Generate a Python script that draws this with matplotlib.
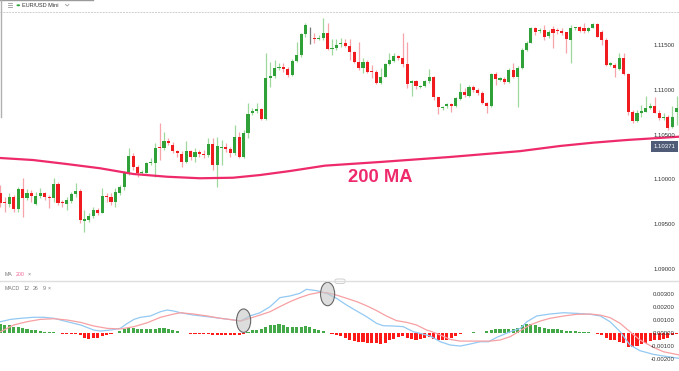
import matplotlib
matplotlib.use("Agg")
import matplotlib.pyplot as plt
from matplotlib.patches import Ellipse, FancyBboxPatch, Circle
from matplotlib.lines import Line2D
import numpy as np

# ---------------- data ----------------
opens = [
1.09852, 1.09751, 1.09729, 1.09807, 1.09673, 1.09897, 1.09796, 1.09852, 1.09729, 1.09818,
1.09855, 1.09811, 1.09793, 1.09953, 1.09755, 1.09729, 1.09766, 1.09841, 1.09878, 1.09542,
1.09550, 1.09598, 1.09662, 1.09632, 1.09822, 1.09804, 1.09748, 1.09855, 1.09916, 1.10073,
1.10270, 1.10139, 1.10079, 1.10079, 1.10184, 1.10184, 1.10363, 1.10359, 1.10437, 1.10393,
1.10326, 1.10288, 1.10196, 1.10322, 1.10258, 1.10314, 1.10292, 1.10277, 1.10397, 1.10165,
1.10352, 1.10370, 1.10344, 1.10296, 1.10475, 1.10251, 1.10527, 1.10744, 1.10773, 1.10788,
1.10676, 1.11135, 1.11161, 1.11247, 1.11265, 1.11239, 1.11172, 1.11332, 1.11396, 1.11627,
1.11595, 1.11583, 1.11571, 1.11583, 1.11638, 1.11466, 1.11470, 1.11515, 1.11530, 1.11496,
1.11433, 1.11321, 1.11247, 1.11321, 1.11220, 1.11209, 1.11079, 1.11153, 1.11295, 1.11332,
1.11385, 1.11359, 1.11295, 1.11083, 1.11101, 1.11041, 1.11053, 1.11105, 1.11153, 1.10923,
1.10807, 1.10829, 1.10848, 1.10825, 1.10907, 1.10982, 1.10937, 1.11041, 1.11004, 1.10974,
1.10855, 1.10825, 1.11180, 1.11116, 1.11127, 1.11090, 1.11228, 1.11146, 1.11247, 1.11452,
1.11534, 1.11694, 1.11661, 1.11675, 1.11608, 1.11687, 1.11675, 1.11668, 1.11650, 1.11564,
1.11694, 1.11705, 1.11698, 1.11668, 1.11701, 1.11739, 1.11650, 1.11564, 1.11284, 1.11284,
1.11239, 1.11359, 1.11183, 1.10758, 1.10661, 1.10751, 1.10762, 1.10800, 1.10825, 1.10751,
1.10688, 1.10706, 1.10594, 1.10762]

highs = [
1.09941, 1.09807, 1.09852, 1.09830, 1.09919, 1.10020, 1.09897, 1.09886, 1.09863, 1.09905,
1.09863, 1.09830, 1.10017, 1.09979, 1.09774, 1.09811, 1.09867, 1.09967, 1.09893, 1.09662,
1.09625, 1.09699, 1.09681, 1.09905, 1.09849, 1.09855, 1.09905, 1.09941, 1.10102, 1.10352,
1.10296, 1.10165, 1.10109, 1.10202, 1.10240, 1.10408, 1.10632, 1.10538, 1.10464, 1.10426,
1.10333, 1.10326, 1.10437, 1.10333, 1.10352, 1.10333, 1.10333, 1.10464, 1.10464, 1.10482,
1.10445, 1.10408, 1.10370, 1.10613, 1.10538, 1.10557, 1.10862, 1.10800, 1.10855, 1.10800,
1.11415, 1.11321, 1.11340, 1.11303, 1.11310, 1.11265, 1.11348, 1.11545, 1.11638, 1.11757,
1.11712, 1.11638, 1.11620, 1.11806, 1.11750, 1.11571, 1.11571, 1.11583, 1.11571, 1.11571,
1.11444, 1.11545, 1.11359, 1.11340, 1.11284, 1.11228, 1.11247, 1.11310, 1.11422, 1.11422,
1.11396, 1.11638, 1.11545, 1.11116, 1.11116, 1.11060, 1.11116, 1.11239, 1.11161, 1.10930,
1.10825, 1.10862, 1.10862, 1.10923, 1.11079, 1.11027, 1.11060, 1.11060, 1.11027, 1.10993,
1.10870, 1.11194, 1.11206, 1.11150, 1.11150, 1.11250, 1.11303, 1.11273, 1.11474, 1.11552,
1.11709, 1.11709, 1.11698, 1.11731, 1.11675, 1.11720, 1.11698, 1.11694, 1.11657, 1.11731,
1.11712, 1.11720, 1.11757, 1.11712, 1.11757, 1.11754, 1.11675, 1.11583, 1.11317, 1.11303,
1.11415, 1.11415, 1.11194, 1.10781, 1.10781, 1.10837, 1.10937, 1.10859, 1.10930, 1.10781,
1.10747, 1.10725, 1.10825, 1.10937]

lows = [
1.09696, 1.09640, 1.09696, 1.09640, 1.09640, 1.09584, 1.09774, 1.09751, 1.09718, 1.09793,
1.09774, 1.09684, 1.09755, 1.09718, 1.09699, 1.09662, 1.09737, 1.09811, 1.09520, 1.09419,
1.09531, 1.09569, 1.09606, 1.09625, 1.09755, 1.09718, 1.09692, 1.09830, 1.09886, 1.10053,
1.10109, 1.10034, 1.10053, 1.10073, 1.10165, 1.10034, 1.10221, 1.10333, 1.10389, 1.10296,
1.10258, 1.10146, 1.10184, 1.10221, 1.10202, 1.10258, 1.10240, 1.10258, 1.10109, 1.09923,
1.10165, 1.10314, 1.10251, 1.10277, 1.10240, 1.10240, 1.10464, 1.10725, 1.10744, 1.10669,
1.10669, 1.11041, 1.11135, 1.11228, 1.11209, 1.11153, 1.11161, 1.11321, 1.11377, 1.11601,
1.11515, 1.11527, 1.11564, 1.11564, 1.11452, 1.11396, 1.11452, 1.11489, 1.11489, 1.11340,
1.11303, 1.11228, 1.11198, 1.11191, 1.11135, 1.11071, 1.11071, 1.11150, 1.11284, 1.11321,
1.11340, 1.11265, 1.11023, 1.10937, 1.11012, 1.11023, 1.11034, 1.11079, 1.10893, 1.10736,
1.10781, 1.10800, 1.10762, 1.10811, 1.10893, 1.10926, 1.10926, 1.10982, 1.10948, 1.10848,
1.10744, 1.10814, 1.11060, 1.11105, 1.11071, 1.11083, 1.11138, 1.10818, 1.11239, 1.11441,
1.11530, 1.11620, 1.11642, 1.11564, 1.11586, 1.11474, 1.11631, 1.11620, 1.11415, 1.11303,
1.11675, 1.11653, 1.11638, 1.11653, 1.11694, 1.11594, 1.11508, 1.11273, 1.11273, 1.11146,
1.11228, 1.11172, 1.10725, 1.10635, 1.10646, 1.10702, 1.10758, 1.10792, 1.10744, 1.10669,
1.10669, 1.10557, 1.10579, 1.10613]

closes = [
1.09740, 1.09740, 1.09807, 1.09673, 1.09897, 1.09796, 1.09852, 1.09818, 1.09818, 1.09855,
1.09804, 1.09793, 1.09953, 1.09744, 1.09737, 1.09774, 1.09841, 1.09878, 1.09550, 1.09561,
1.09598, 1.09662, 1.09632, 1.09822, 1.09804, 1.09748, 1.09867, 1.09916, 1.10073, 1.10270,
1.10139, 1.10079, 1.10090, 1.10184, 1.10196, 1.10359, 1.10352, 1.10437, 1.10415, 1.10326,
1.10303, 1.10196, 1.10322, 1.10258, 1.10314, 1.10292, 1.10277, 1.10397, 1.10165, 1.10378,
1.10370, 1.10348, 1.10296, 1.10475, 1.10251, 1.10527, 1.10736, 1.10773, 1.10788, 1.10676,
1.11142, 1.11161, 1.11247, 1.11265, 1.11239, 1.11172, 1.11332, 1.11396, 1.11627, 1.11731,
1.11595, 1.11571, 1.11583, 1.11638, 1.11463, 1.11477, 1.11508, 1.11530, 1.11496, 1.11433,
1.11321, 1.11247, 1.11321, 1.11209, 1.11209, 1.11079, 1.11153, 1.11295, 1.11340, 1.11385,
1.11359, 1.11295, 1.11068, 1.11101, 1.11053, 1.11053, 1.11105, 1.11153, 1.10923, 1.10811,
1.10818, 1.10848, 1.10825, 1.10911, 1.10982, 1.10945, 1.11041, 1.11004, 1.10974, 1.10855,
1.10825, 1.11180, 1.11124, 1.11135, 1.11090, 1.11228, 1.11146, 1.11247, 1.11452, 1.11534,
1.11694, 1.11650, 1.11675, 1.11597, 1.11653, 1.11642, 1.11661, 1.11638, 1.11571, 1.11694,
1.11705, 1.11668, 1.11668, 1.11701, 1.11739, 1.11601, 1.11564, 1.11284, 1.11303, 1.11247,
1.11359, 1.11183, 1.10762, 1.10661, 1.10751, 1.10770, 1.10807, 1.10825, 1.10751, 1.10688,
1.10706, 1.10576, 1.10706, 1.10800]

# 200-period moving average (read at points along the curve; x in candle index)
ma_idx = [-0.2, 7.35, 15.0, 22.5, 30.0, 37.7, 45.1, 52.6, 58.7, 65.5, 73.4, 85.9,
          101.7, 117.5, 126.6, 134.1, 141.7, 153.6]
ma_val = [1.10244, 1.10221, 1.10176, 1.10129, 1.10065, 1.10034, 1.10017, 1.10023,
          1.10053, 1.10098, 1.10158, 1.10199, 1.10255, 1.10320, 1.10378, 1.10415,
          1.10445, 1.10482]

# MACD histogram (one value per candle)
macd_hist = [
0.00070, 0.00065, 0.00058, 0.00050, 0.00045, 0.00038, 0.00028, 0.00025, 0.00020, 0.00015,
0.00010, 0.00008, 0.00005, 0.00003,
-0.00010, -0.00010, -0.00010, -0.00010, -0.00018, -0.00035, -0.00043, -0.00038, -0.00035,
-0.00023, -0.00013, -0.00005,
0.00003, 0.00015, 0.00028, 0.00038, 0.00038, 0.00030, 0.00028, 0.00028, 0.00030, 0.00033,
0.00038, 0.00038, 0.00033, 0.00023, 0.00013,
0.00002, -0.00002, -0.00008, -0.00010, -0.00005, -0.00008, -0.00010, -0.00013, -0.00015,
-0.00018, -0.00018, -0.00018, -0.00015, -0.00015, -0.00010,
0.00008, 0.00020, 0.00025, 0.00028, 0.00045, 0.00058, 0.00065, 0.00070, 0.00063, 0.00050,
0.00045, 0.00045, 0.00045, 0.00055, 0.00045, 0.00033, 0.00020, 0.00015, 0.00001,
-0.00008, -0.00015, -0.00025, -0.00035, -0.00050, -0.00060, -0.00068, -0.00068, -0.00073,
-0.00075, -0.00080, -0.00085, -0.00073, -0.00055, -0.00043, -0.00030, -0.00025, -0.00035,
-0.00048, -0.00050, -0.00045, -0.00035, -0.00030,
-0.00048, -0.00055, -0.00055, -0.00050, -0.00035, -0.00025, -0.00010, -0.00003,
0.00002, 0.00005, 0.00002, 0.00001, 0.00015, 0.00025, 0.00028, 0.00028, 0.00033, 0.00033,
0.00033, 0.00040, 0.00058, 0.00070, 0.00070, 0.00063, 0.00050, 0.00038, 0.00033, 0.00033,
0.00028, 0.00020, 0.00015, 0.00015, 0.00013, 0.00010, 0.00008, 0.00005, 0.00003,
-0.00005, -0.00018, -0.00035, -0.00055, -0.00055, -0.00068, -0.00080, -0.00110, -0.00110,
-0.00100, -0.00085, -0.00073, -0.00060, -0.00055, -0.00050, -0.00048, -0.00035, -0.00018,
-0.00010]

# MACD line (12, 26) read at points
macd_idx = [0, 2.3, 4.5, 7.5, 9.8, 12.1, 15.1, 18.1, 21.1, 22.6,
            24.9, 27.1, 28.7, 30.2, 31.7, 33.9, 36.2, 37.7, 39.2, 40.7,
            43.7, 46.8, 49.8, 52.8, 54.3, 56.4, 58.7, 61.0, 63.2, 65.5,
            67.7, 69.2, 71.5, 73.8, 76.0, 78.3, 80.6, 82.8, 85.1, 86.6,
            88.9, 91.1, 93.4, 95.6, 97.2, 99.5, 101.7, 104.0, 106.2, 108.5,
            110.4, 112.3, 115.3, 117.6, 119.1, 121.3, 124.3, 127.4, 130.4, 133.4,
            135.7, 137.9, 140.2, 142.4, 144.7, 147.7, 150.0, 153.6]
macd_val = [0.00087, 0.00105, 0.00113, 0.00121, 0.00121, 0.00113, 0.00087, 0.00062, 0.00023, 0.00015,
            0.00023, 0.00036, 0.00074, 0.00105, 0.00121, 0.00131, 0.00164, 0.00177, 0.00169, 0.00156,
            0.00138, 0.00126, 0.00113, 0.00100, 0.00092, 0.00131, 0.00156, 0.00203, 0.00272, 0.00285,
            0.00305, 0.00336, 0.00326, 0.00305, 0.00267, 0.00215, 0.00169, 0.00126, 0.00074, 0.00056,
            0.00054, 0.00049, 0.00010, -0.00008, -0.00023, -0.00067, -0.00092, -0.00100, -0.00085, -0.00067,
            -0.00067, -0.00033, 0.00010, 0.00036, 0.00087, 0.00131, 0.00146, 0.00156, 0.00151, 0.00144,
            0.00131, 0.00087, 0.00010, -0.00092, -0.00136, -0.00164, -0.00177, -0.00195]

# Signal line (9) read at points
sig_idx = [0, 3.0, 6.0, 9.0, 12.1, 15.1, 18.1, 21.1, 24.1, 27.1,
           30.2, 33.2, 36.2, 39.2, 40.7, 43.7, 46.8, 49.8, 52.8, 54.3,
           56.4, 58.7, 61.0, 63.2, 65.5, 67.7, 69.9, 72.3, 73.8, 76.0,
           78.3, 80.6, 82.8, 85.1, 87.3, 89.6, 91.9, 94.1, 96.4, 97.2,
           99.5, 101.7, 104.0, 106.2, 108.5, 110.8, 113.0, 115.3, 117.6, 119.8,
           122.1, 124.3, 127.4, 130.4, 133.4, 135.7, 137.9, 140.2, 142.4, 144.7,
           147.7, 150.0, 153.6]
sig_val = [0.00010, 0.00062, 0.00087, 0.00105, 0.00110, 0.00100, 0.00082, 0.00054, 0.00036, 0.00031,
           0.00049, 0.00079, 0.00121, 0.00146, 0.00156, 0.00146, 0.00131, 0.00113, 0.00100, 0.00092,
           0.00113, 0.00138, 0.00164, 0.00203, 0.00241, 0.00272, 0.00297, 0.00313, 0.00310, 0.00292,
           0.00267, 0.00241, 0.00210, 0.00172, 0.00131, 0.00095, 0.00082, 0.00062, 0.00023, 0.00015,
           -0.00015, -0.00049, -0.00062, -0.00062, -0.00062, -0.00062, -0.00054, -0.00028, 0.00018, 0.00062,
           0.00092, 0.00113, 0.00131, 0.00144, 0.00146, 0.00138, 0.00118, 0.00074, 0.00010, -0.00054,
           -0.00110, -0.00144, -0.00169]

price_ticks = [1.115, 1.110, 1.105, 1.100, 1.095, 1.090]
macd_ticks = [0.003, 0.002, 0.001, 0.0, -0.001, -0.002]
last_label = 1.10371
cross_idx = [55.0, 74.0]
cross_val = [0.00095, 0.00300]

# ---------------- figure ----------------
FONT = 'Liberation Sans'
plt.rcParams['font.family'] = [FONT, 'DejaVu Sans']
W, H = 679, 371
fig = plt.figure(figsize=(W / 100, H / 100), dpi=100)
fig.patch.set_facecolor('white')

def fy(py):
    return 1 - py / H

def fx(px):
    return px / W

main_top, pane_sep = 12.3, 281
ax = fig.add_axes([0, fy(pane_sep), 1, fy(main_top) - fy(pane_sep)])
ax2 = fig.add_axes([0, 0, 1, fy(pane_sep)])
for a in (ax, ax2):
    a.set_axis_off()
    a.set_xlim(-0.113, 153.5)
ax.set_ylim(1.08868, 1.11873)
ax2.set_ylim(-0.00292, 0.00400)

GREEN, RED, GRAY = '#2fa138', '#ef1b1f', '#777777'
GWICK, RWICK = '#9fd89f', '#f6a3aa'

o = np.array(opens); h = np.array(highs); l = np.array(lows); c = np.array(closes)
n = len(o)
idx = np.arange(n)
body_col = [GREEN if cc > oo else (RED if cc < oo else GRAY) for oo, cc in zip(o, c)]
wick_col = [GWICK if cc > oo else (RWICK if cc < oo else GRAY) for oo, cc in zip(o, c)]

ax.vlines(idx, l, h, colors=wick_col, linewidth=0.9, zorder=2)
bottoms = np.minimum(o, c)
heights = np.maximum(np.abs(c - o), 0.00002)
ax.bar(idx, heights, bottom=bottoms, width=0.7, color=body_col, linewidth=0, zorder=3)

ax.plot(ma_idx, ma_val, color='#ee2a6b', linewidth=1.6, zorder=4, solid_capstyle='round')

# price labels
for v in price_ticks:
    ax.text(0.994, v, f"{v:.5f}", transform=ax.get_yaxis_transform(), ha='right',
            va='center', fontsize=4.3, color='#333333', zorder=6)
ax.text(fx(664.5), last_label, f"{last_label:.5f}", transform=ax.get_yaxis_transform(),
        ha='center', va='center', fontsize=4.3, color='white', zorder=7,
        bbox=dict(boxstyle='square,pad=0.45', fc='#4f5b77', ec='none'))

# MACD pane
hist = np.array(macd_hist)
hcol = ['#43a847' if v >= 0 else '#ff1a1a' for v in hist]
ax2.bar(np.arange(len(hist)), hist, width=0.7, color=hcol, linewidth=0, zorder=2)
ax2.plot(macd_idx, macd_val, color='#93c9f3', linewidth=0.9, zorder=3)
ax2.plot(sig_idx, sig_val, color='#f7a0a3', linewidth=0.9, zorder=3)
for ci, cv in zip(cross_idx, cross_val):
    ax2.add_patch(Ellipse((ci, cv), width=3.2, height=0.0018, facecolor=(0.78, 0.78, 0.78, 0.6),
                          edgecolor='#666666', linewidth=0.8, zorder=5))
for v in macd_ticks:
    ax2.text(0.994, v, f"{v:.5f}", transform=ax2.get_yaxis_transform(), ha='right',
             va='center', fontsize=4.3, color='#333333', zorder=6)

# ---------------- decorations ----------------
fig.add_artist(Line2D([0, 1], [fy(main_top), fy(main_top)], color='#cfcfcf', linewidth=0.7,
                      linestyle=(0, (2, 1))))
fig.add_artist(Line2D([0, 1], [fy(pane_sep), fy(pane_sep)], color='#dedede', linewidth=1.0))
fig.add_artist(Line2D([0, fx(93)], [fy(0.4), fy(0.4)], color='#9a9a9a', linewidth=1.0))
fig.add_artist(Line2D([fx(0.5), fx(0.5)], [fy(0), fy(117)], color='#b0b0b0', linewidth=1.0))

# hamburger icon
for py in (3.0, 5.0, 7.0):
    fig.add_artist(Line2D([fx(7.5), fx(11.5)], [fy(py), fy(py)], color='#999999', linewidth=0.6))
fig.add_artist(Circle((fx(18.3), fy(5.3)), 1.8 / W, transform=fig.transFigure,
                      facecolor='#2fa138', edgecolor='none'))
fig.text(fx(22.5), fy(5.5), "EUR/USD Mini", fontsize=4.0, color='#333333', ha='left', va='center')
fig.add_artist(Line2D([fx(65.5), fx(67.2), fx(68.9)], [fy(4.4), fy(6.0), fy(4.4)],
                      color='#999999', linewidth=0.6))

fig.text(fx(380), fy(177.5), "200 MA", fontsize=13.2, fontweight='bold', color='#ee2a6b',
         ha='center', va='center')

fig.text(fx(5), fy(274.3), "MA", fontsize=3.8, color='#777777', ha='left', va='center')
fig.text(fx(16), fy(274.3), "200", fontsize=3.8, color='#f06292', ha='left', va='center')
fig.text(fx(28), fy(274.3), "\u00d7", fontsize=3.8, color='#777777', ha='left', va='center')

fig.text(fx(5), fy(288), "MACD", fontsize=3.8, color='#777777', ha='left', va='center')
fig.text(fx(24), fy(288), "12", fontsize=3.8, color='#777777', ha='left', va='center')
fig.text(fx(33), fy(288), "26", fontsize=3.8, color='#777777', ha='left', va='center')
fig.text(fx(42.5), fy(288), "9", fontsize=3.8, color='#777777', ha='left', va='center')
fig.text(fx(48), fy(288), "\u00d7", fontsize=3.8, color='#777777', ha='left', va='center')

pill = FancyBboxPatch((fx(335), fy(283.5)), 10 / W, 4.5 / H,
                      boxstyle='round,pad=0,rounding_size=0.004', transform=fig.transFigure,
                      facecolor='white', edgecolor='#c8c8c8', linewidth=0.6)
fig.add_artist(pill)

fig.savefig("out.png", dpi=100, facecolor='white')
